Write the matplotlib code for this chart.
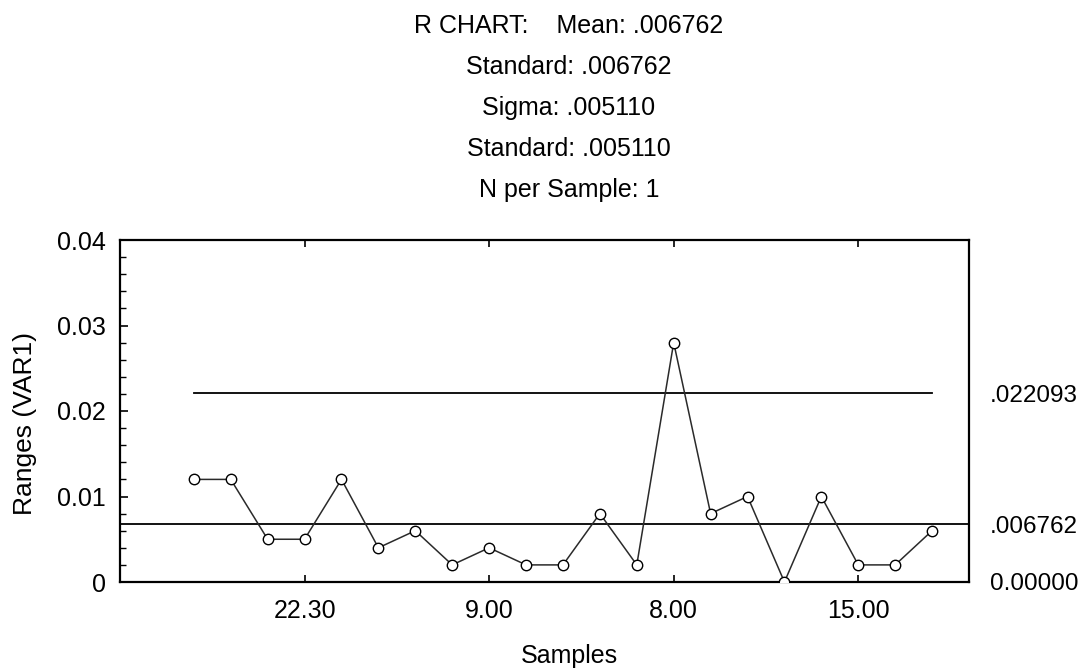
import matplotlib
matplotlib.use("Agg")
import matplotlib.pyplot as plt
from matplotlib.ticker import MultipleLocator

# ---- data ----
sample_index = list(range(21))
ranges = [0.012, 0.012, 0.005, 0.005, 0.012, 0.004, 0.006, 0.002, 0.004, 0.002,
          0.002, 0.008, 0.002, 0.028, 0.008, 0.010, 0.000, 0.010, 0.002, 0.002, 0.006]
mean_r = 0.006762
ucl_r = 0.022093
xtick_pos = [3, 8, 13, 18]
xtick_labels = ["22.30", "9.00", "8.00", "15.00"]
ytick_vals = [0.0, 0.01, 0.02, 0.03, 0.04]
ytick_labels = ["0", "0.01", "0.02", "0.03", "0.04"]
right_vals = [0.0, mean_r, ucl_r]
right_labels = ["0.00000", ".006762", ".022093"]
title_lines = ["R CHART:    Mean: .006762", "Standard: .006762", "Sigma: .005110",
               "Standard: .005110", "N per Sample: 1"]

plt.rcParams['font.family'] = ['Liberation Sans', 'DejaVu Sans']
FS = 18

fig = plt.figure(figsize=(10.85, 6.72), dpi=100)
ax = fig.add_axes([120/1085, 90/672, (969-120)/1085, (582-240)/672])

ax.axhline(mean_r, color='black', lw=1.3, zorder=2)
ax.plot([sample_index[0], sample_index[-1]], [ucl_r, ucl_r], color='black', lw=1.3, zorder=2)
ax.plot(sample_index, ranges, color='#2a2a2a', lw=1.1, marker='o', ms=7.5,
        mfc='white', mec='black', mew=1.0, zorder=3, clip_on=True)

ax.set_xlim(-2, 21)
ax.set_ylim(0, 0.04)
ax.set_xticks(xtick_pos)
ax.set_xticklabels(xtick_labels, fontsize=FS)
ax.set_yticks(ytick_vals)
ax.set_yticklabels(ytick_labels, fontsize=FS)
ax.yaxis.set_minor_locator(MultipleLocator(0.002))
ax.tick_params(axis='y', which='both', direction='in', left=True, right=True, pad=10)
ax.tick_params(axis='y', which='major', length=6, width=1.2)
ax.tick_params(axis='y', which='minor', length=4, width=1.0)
ax.tick_params(axis='x', which='major', direction='in', top=True, bottom=True,
               length=5, width=1.2, pad=12)
for s in ax.spines.values():
    s.set_linewidth(1.6)

ax2 = ax.twinx()
ax2.set_ylim(0, 0.04)
ax2.set_yticks(right_vals)
ax2.set_yticklabels(right_labels, fontsize=17.5)
ax2.tick_params(axis='y', length=0, pad=15)
for s in ax2.spines.values():
    s.set_visible(False)

ax.set_xlabel("Samples", fontsize=FS)
ax.xaxis.set_label_coords(0.529, -0.182)
ax.set_ylabel("Ranges (VAR1)", fontsize=19)
ax.yaxis.set_label_coords(-0.098, 0.462)

for i, line in enumerate(title_lines):
    fig.text(569/1085, 1 - (33 + 41*i)/672, line, ha='center', va='baseline', fontsize=FS)

fig.savefig("out.png", dpi=100)
